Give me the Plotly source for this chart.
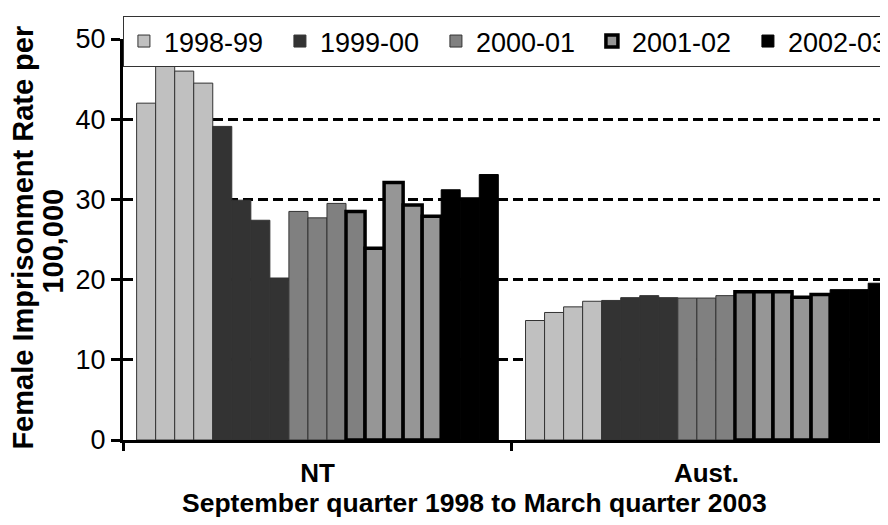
import plotly.graph_objects as go

# ---- data ----
groups = ["NT", "Aust."]
quarters = ["Sep 1998", "Dec 1998", "Mar 1999", "Jun 1999",
            "Sep 1999", "Dec 1999", "Mar 2000", "Jun 2000",
            "Sep 2000", "Dec 2000", "Mar 2001", "Jun 2001",
            "Sep 2001", "Dec 2001", "Mar 2002", "Jun 2002",
            "Sep 2002", "Dec 2002", "Mar 2003"]
fin_years = ["1998-99"] * 4 + ["1999-00"] * 4 + ["2000-01"] * 4 + ["2001-02"] * 4 + ["2002-03"] * 3
nt_rate = [42.0, 47.6, 46.0, 44.5,
           39.1, 29.9, 27.4, 20.2,
           28.5, 27.7, 29.5, 28.5,
           23.9, 32.1, 29.3, 27.9,
           31.2, 30.2, 33.1]
aust_rate = [14.9, 15.9, 16.6, 17.3,
             17.4, 17.75, 18.0, 17.75,
             17.7, 17.7, 18.0, 18.5,
             18.5, 18.5, 17.8, 18.15,
             18.75, 18.75, 19.55]
year_labels = ["1998-99", "1999-00", "2000-01", "2001-02", "2002-03"]
year_colors = ["#c0c0c0", "#333333", "#808080", "#969696", "#000000"]
thick_quarters = ["Jun 2001", "Sep 2001", "Dec 2001", "Mar 2002", "Jun 2002"]

FONT = "Liberation Sans, Arial, sans-serif"

fig = go.Figure()
seen = set()
for q, fy, a, b in zip(quarters, fin_years, nt_rate, aust_rate):
    col = year_colors[year_labels.index(fy)]
    thick = q in thick_quarters
    line_col = "#000000" if (thick or col == "#000000") else "#333333"
    fig.add_trace(go.Bar(
        x=groups, y=[a, b], name=fy, legendgroup=fy,
        showlegend=fy not in seen,
        marker=dict(color=col, line=dict(color=line_col, width=3.5 if thick else 1)),
        hoverinfo="skip",
    ))
    seen.add(fy)

# page has an 8px body margin, so the figure is 8px smaller on each axis
fig.update_layout(
    width=880, height=517,
    margin=dict(l=115, r=0, t=31, b=85, autoexpand=False),
    paper_bgcolor="white", plot_bgcolor="white",
    barmode="group", bargap=0.07, bargroupgap=0,
    font=dict(family=FONT, color="black", size=26),
    showlegend=True,
    legend=dict(orientation="h", x=-0.0001, y=1.0574, xanchor="left", yanchor="top",
                bordercolor="#333333", borderwidth=1, bgcolor="white",
                font=dict(family=FONT, size=27, color="black"),
                entrywidth=111, entrywidthmode="pixels", traceorder="normal"),
    xaxis=dict(type="category", range=[-0.5, 1.467], showline=True, linecolor="black",
               linewidth=3, ticks="outside", tickson="boundaries", ticklen=8, tickwidth=3,
               tickcolor="black", showgrid=False, zeroline=False, ticklabelstandoff=8,
               tickfont=dict(family=FONT, size=26, color="black", weight="bold")),
    yaxis=dict(range=[0, 50], tickvals=[0, 10, 20, 30, 40, 50], showline=True,
               linecolor="black", linewidth=3, ticks="outside", ticklen=9, tickwidth=3,
               tickcolor="black", showgrid=True, gridcolor="black", gridwidth=3,
               griddash="10px,5px", zeroline=False,
               tickfont=dict(family=FONT, size=27, color="black")),
    yaxis2=dict(range=[0, 50], tickvals=[0, 10, 20, 30, 40, 50], overlaying="y", side="left",
                ticks="inside", ticklen=6, tickwidth=3, tickcolor="black",
                showticklabels=False, showgrid=False, showline=False, zeroline=False),
    annotations=[
        dict(text="<b>Female Imprisonment Rate per</b>", textangle=-90, xref="paper", yref="paper",
             x=(22.6 - 123) / 765, y=(440 - 238) / 401, xanchor="center", yanchor="middle",
             showarrow=False, font=dict(family=FONT, size=29, color="black")),
        dict(text="<b>100,000</b>", textangle=-90, xref="paper", yref="paper",
             x=(52.6 - 123) / 765, y=(440 - 241) / 401, xanchor="center", yanchor="middle",
             showarrow=False, font=dict(family=FONT, size=29, color="black")),
        dict(text="<b>September quarter 1998 to March quarter 2003</b>", xref="paper", yref="paper",
             x=(474.5 - 123) / 765, y=(440 - 503) / 401, xanchor="center", yanchor="middle",
             showarrow=False, font=dict(family=FONT, size=26.5, color="black")),
    ],
)

fig.write_html("out.html")
